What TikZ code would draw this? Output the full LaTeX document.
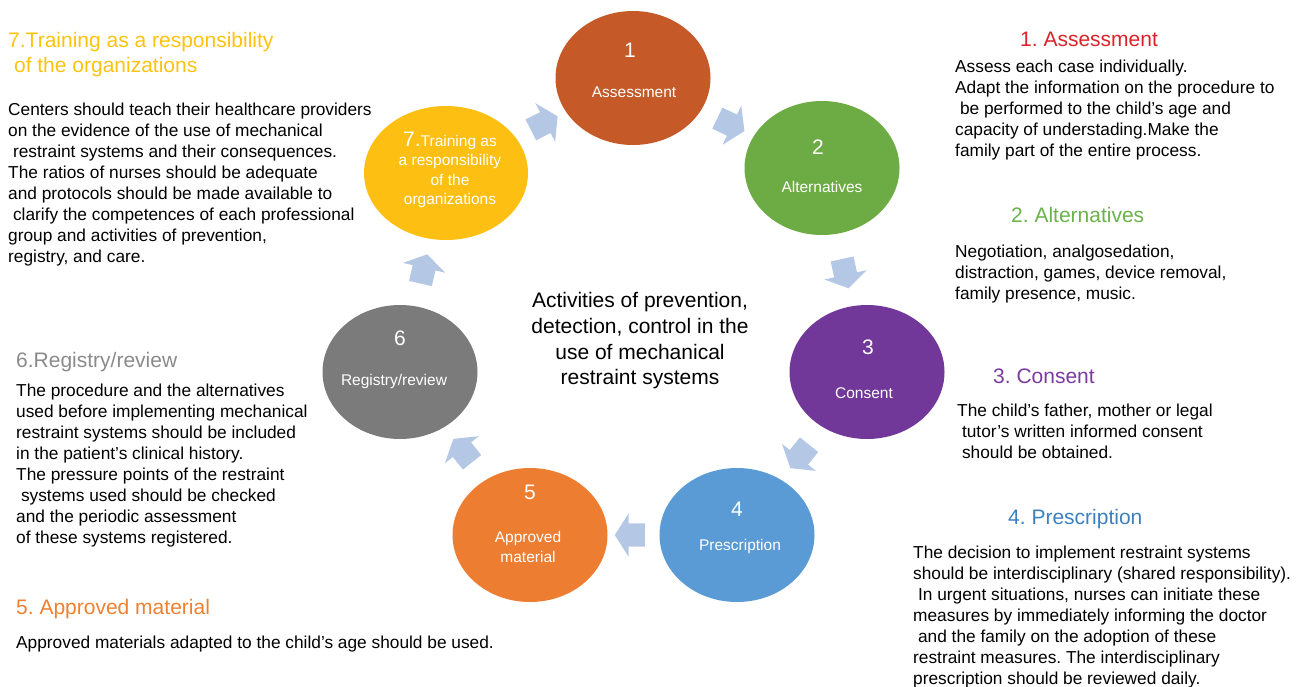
\documentclass[tikz,border=0pt]{standalone}
\usepackage{fontspec}
\setmainfont{Liberation Sans}
\usetikzlibrary{shapes.geometric}
\usetikzlibrary{shapes.arrows}
\definecolor{assesscol}{HTML}{C55A28}
\definecolor{altercol}{HTML}{6DAB45}
\definecolor{consentcol}{HTML}{71389A}
\definecolor{prescol}{HTML}{5B9BD5}
\definecolor{matcol}{HTML}{ED7D31}
\definecolor{regcol}{HTML}{7B7B7B}
\definecolor{traincol}{HTML}{FCBF12}
\definecolor{flowblue}{HTML}{B4C8E6}
\definecolor{assesshead}{HTML}{DC2229}
\definecolor{alterhead}{HTML}{6AB24A}
\definecolor{consenthead}{HTML}{7B3BA0}
\definecolor{preshead}{HTML}{3C80C0}
\definecolor{mathead}{HTML}{F07F2F}
\definecolor{reghead}{HTML}{8A8A8A}
\definecolor{trainhead}{HTML}{FFC20E}
\newcommand{\padsp}{\hspace*{0.28em}}
\frenchspacing

\begin{document}
\begin{tikzpicture}[x=1pt,y=-1pt,
  stage/.style={shape=ellipse,draw=none,inner sep=0pt,minimum width=155pt,minimum height=134pt},
  stagenum/.style={text=white,inner sep=0pt,font=\fontsize{21}{21}\selectfont},
  stagetext/.style={text=white,inner sep=0pt,align=center,font=\fontsize{15.5}{19.5}\selectfont},
  flow/.style={shape=single arrow,fill=flowblue,draw=none,inner xsep=0pt,inner ysep=11.5pt,minimum height=30pt,
    single arrow head extend=10pt,single arrow tip angle=115,sloped,allow upside down},
  heading/.style={anchor=base west,inner sep=0pt,font=\fontsize{21}{25}\selectfont},
  info/.style={anchor=north west,inner sep=0pt,align=left,font=\fontsize{17.3}{21}\selectfont}]
  \useasboundingbox (0,0) rectangle (1299,686);

  \node[stage,fill=assesscol]  (s1) at (633,78)  {};
  \node[stage,fill=altercol]   (s2) at (822,168) {};
  \node[stage,fill=consentcol] (s3) at (867,372) {};
  \node[stage,fill=prescol]    (s4) at (737,535) {};
  \node[stage,fill=matcol]     (s5) at (530,535) {};
  \node[stage,fill=regcol]     (s6) at (400,372) {};
  \node[stage,fill=traincol,minimum width=164pt] (s7) at (446,173) {};

  \node[stagenum]  (n1) at (630,50)  {1};
  \node[stagetext] (t1) at (634,92)  {Assessment};
  \node[stagenum]  (n2) at (818,147) {2};
  \node[stagetext] (t2) at (822,187) {Alternatives};
  \node[stagenum]  (n3) at (868,347) {3};
  \node[stagetext] (t3) at (864,393) {Consent};
  \node[stagenum]  (n4) at (737,509) {4};
  \node[stagetext] (t4) at (740,546) {Prescription};
  \node[stagenum]  (n5) at (530,492) {5};
  \node[stagetext] (t5) at (528,547) {Approved\\material};
  \node[stagenum]  (n6) at (400,338) {6};
  \node[stagetext] (t6) at (394,381) {Registry/review};
  \node[stagetext] (t7) at (450,170) {{\fontsize{21}{21}\selectfont 7.}Training as\\a responsibility\\of the\\organizations};

  \path (s7) -- node[flow] (f1) {} (s1);
  \path (s1) -- node[flow] (f2) {} (s2);
  \path (s2) -- node[flow] (f3) {} (s3);
  \path (s3) -- node[flow] (f4) {} (s4);
  \path (s4) -- node[flow] (f5) {} (s5);
  \path (s5) -- node[flow] (f6) {} (s6);
  \path (s6) -- node[flow] (f7) {} (s7);

  \node[align=center,font=\fontsize{21}{25.7}\selectfont] (hub) at (640,341)
    {Activities of prevention,\\detection, control in the\\use of mechanical\\restraint systems};

  \node[heading,anchor=north west,align=left,text=trainhead] (h7) at (8,32)
    {7.Training as a responsibility\\\padsp of the organizations};
  \node[info] (b7) at (8,102.5)
    {Centers should teach their healthcare providers\\on the evidence of the use of mechanical\\\padsp restraint systems and their consequences.\\The ratios of nurses should be adequate\\and protocols should be made available to\\\padsp clarify the competences of each professional\\group and activities of prevention,\\registry, and care.};

  \node[heading,text=reghead] (h6) at (16,367.5) {6.Registry/review};
  \node[info] (b6) at (16,383.5)
    {The procedure and the alternatives\\used before implementing mechanical\\restraint systems should be included\\in the patient’s clinical history.\\The pressure points of the restraint\\\padsp systems used should be checked\\and the periodic assessment\\of these systems registered.};

  \node[heading,text=mathead] (h5) at (16,614.5) {5. Approved material};
  \node[info] (b5) at (16,635.5) {Approved materials adapted to the child’s age should be used.};

  \node[heading,text=assesshead] (h1) at (1020,46.5) {1. Assessment};
  \node[info] (b1) at (955,59.5)
    {Assess each case individually.\\Adapt the information on the procedure to\\\padsp be performed to the child’s age and\\capacity of understading.Make the\\family part of the entire process.};

  \node[heading,text=alterhead] (h2) at (1011,222.5) {2. Alternatives};
  \node[info] (b2) at (955,244.5)
    {Negotiation, analgosedation,\\distraction, games, device removal,\\family presence, music.};

  \node[heading,text=consenthead] (h3) at (993,383.5) {3. Consent};
  \node[info] (b3) at (957,403.5)
    {The child’s father, mother or legal\\\padsp tutor’s written informed consent\\\padsp should be obtained.};

  \node[heading,text=preshead] (h4) at (1008,524.5) {4. Prescription};
  \node[info] (b4) at (913,545.5)
    {The decision to implement restraint systems\\should be interdisciplinary (shared responsibility).\\\padsp In urgent situations, nurses can initiate these\\measures by immediately informing the doctor\\\padsp and the family on the adoption of these\\restraint measures. The interdisciplinary\\prescription should be reviewed daily.};
\end{tikzpicture}
\end{document}
